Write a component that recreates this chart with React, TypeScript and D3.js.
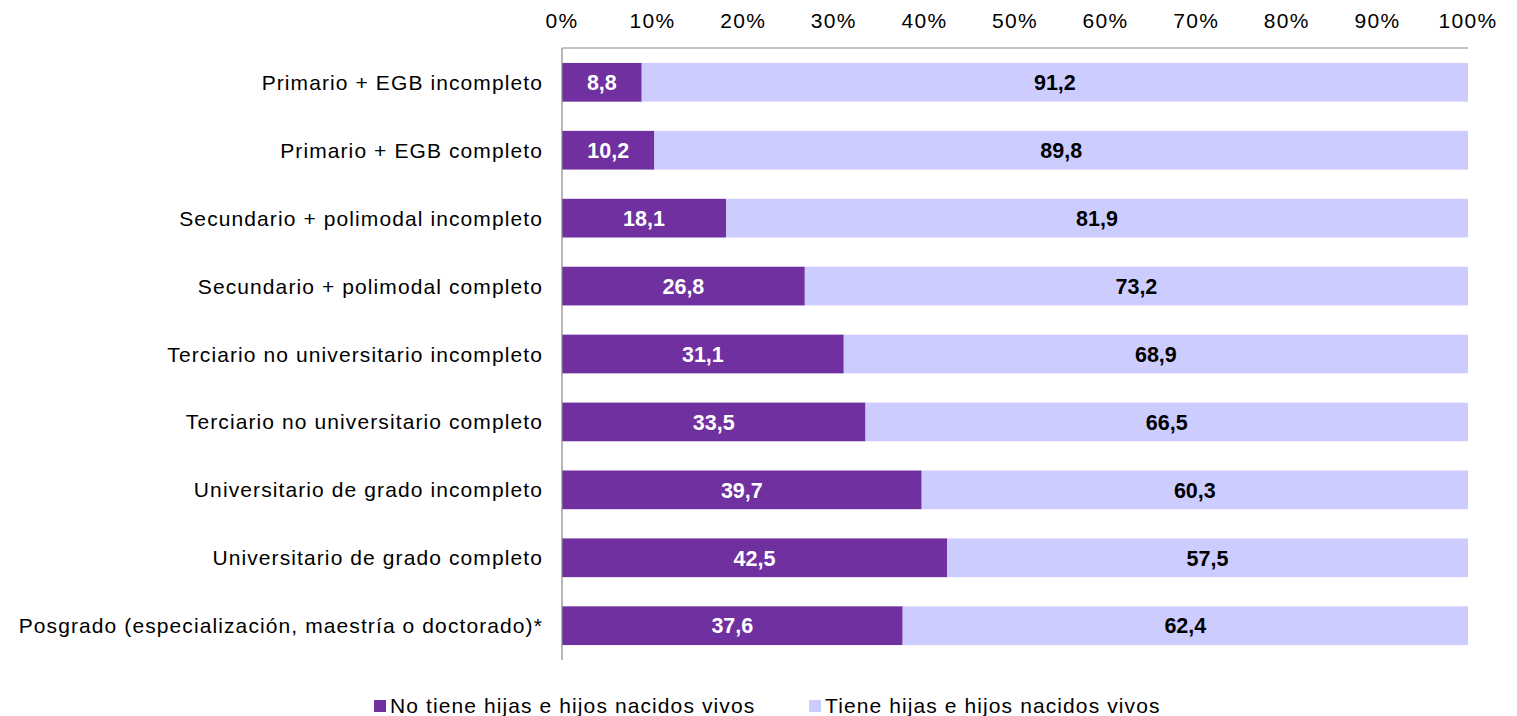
import React from "react";
import * as d3 from "d3";

const categories = [
  "Primario + EGB incompleto",
  "Primario + EGB completo",
  "Secundario + polimodal incompleto",
  "Secundario + polimodal completo",
  "Terciario no universitario incompleto",
  "Terciario no universitario completo",
  "Universitario de grado incompleto",
  "Universitario de grado completo",
  "Posgrado (especialización, maestría o doctorado)*",
];
const noTiene = [8.8, 10.2, 18.1, 26.8, 31.1, 33.5, 39.7, 42.5, 37.6];
const tiene = [91.2, 89.8, 81.9, 73.2, 68.9, 66.5, 60.3, 57.5, 62.4];
const ticks = [0, 10, 20, 30, 40, 50, 60, 70, 80, 90, 100];
const seriesNames = ["No tiene hijas e hijos nacidos vivos", "Tiene hijas e hijos nacidos vivos"];
const colors = ["#7030A0", "#CCCCFF"];

const W = 1517;
const H = 716;
const FONT = "'Liberation Sans', Arial, sans-serif";

export default function App() {
  const x = d3.scaleLinear().domain([0, 100]).range([562, 1468]);
  const y = d3.scaleBand<string>().domain(categories).range([48, 660]).paddingInner(0.43).paddingOuter(0.22);
  const fmt = (v: number) => v.toFixed(1).replace(".", ",");
  return (
    <svg width={W} height={H} style={{ position: "absolute", left: 0, top: 0 }} fontFamily={FONT}>
      <rect width={W} height={H} fill="#fff" />
      {ticks.map((t) => (
        <text key={t} x={x(t)} y={28} textAnchor="middle" fontSize={21} letterSpacing={1.3} fill="#000">
          {t}%
        </text>
      ))}
      {categories.map((c, i) => {
        const y0 = y(c)!;
        const bh = y.bandwidth();
        const cy = y0 + bh / 2;
        return (
          <g key={c}>
            <text x={543} y={cy} dy="0.36em" textAnchor="end" fontSize={21} letterSpacing={1.1} fill="#000">
              {c}
            </text>
            <rect x={x(0)} y={y0} width={x(noTiene[i]) - x(0)} height={bh} fill={colors[0]} />
            <rect x={x(noTiene[i])} y={y0} width={x(noTiene[i] + tiene[i]) - x(noTiene[i])} height={bh} fill={colors[1]} />
            <text x={(x(0) + x(noTiene[i])) / 2} y={cy} dy="0.36em" textAnchor="middle" fontSize={21.5} fontWeight="bold" fill="#fff">
              {fmt(noTiene[i])}
            </text>
            <text x={(x(noTiene[i]) + x(100)) / 2} y={cy} dy="0.36em" textAnchor="middle" fontSize={21.5} fontWeight="bold" fill="#000">
              {fmt(tiene[i])}
            </text>
          </g>
        );
      })}
      <line x1={562} x2={1468} y1={48} y2={48} stroke="#888" strokeWidth={1.2} />
      <line x1={562} x2={562} y1={48} y2={660} stroke="#888" strokeWidth={1.2} />
      <g>
        <rect x={374} y={700} width={12} height={12} fill={colors[0]} />
        <text x={390} y={705.5} dy="0.36em" fontSize={21} letterSpacing={1.1} fill="#000">{seriesNames[0]}</text>
        <rect x={809} y={700} width={12} height={12} fill={colors[1]} />
        <text x={825} y={705.5} dy="0.36em" fontSize={21} letterSpacing={1.1} fill="#000">{seriesNames[1]}</text>
      </g>
    </svg>
  );
}
